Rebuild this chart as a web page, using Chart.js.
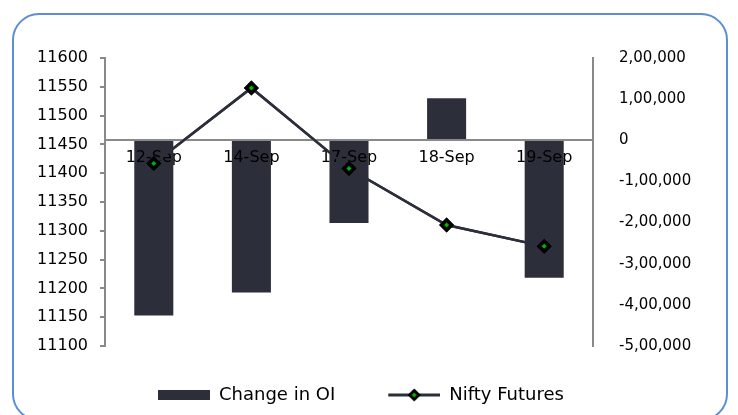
<!DOCTYPE html>
<html><head><meta charset="utf-8">
<script src="https://cdn.jsdelivr.net/npm/chart.js@4.4.0/dist/chart.umd.min.js"></script>
<style>
html,body{margin:0;padding:0;background:#fff;}
#wrap{position:relative;width:738px;height:415px;overflow:hidden;background:#fff;}
#frame{position:absolute;left:12px;top:13px;width:716px;height:408px;border:2px solid #5b8ed6;border-radius:27px;box-sizing:border-box;}
canvas{position:absolute;left:0;top:0;}
</style></head><body>
<div id="wrap"><div id="frame"></div><canvas id="c" width="738" height="415"></canvas></div>
<script>
const categories = ['12-Sep', '14-Sep', '17-Sep', '18-Sep', '19-Sep'];
const oiChange = [-426000, -370000, -201000, 102000, -334000];
const niftyFutures = [11417, 11548, 11408, 11310, 11273];
const leftTickValues = [11100, 11150, 11200, 11250, 11300, 11350, 11400, 11450, 11500, 11550, 11600];
const leftTickLabels = ['11100', '11150', '11200', '11250', '11300', '11350', '11400', '11450', '11500', '11550', '11600'];
const rightTickValues = [-500000, -400000, -300000, -200000, -100000, 0, 100000, 200000];
const rightTickLabels = ['-5,00,000', '-4,00,000', '-3,00,000', '-2,00,000', '-1,00,000', '0', '1,00,000', '2,00,000'];
const seriesNames = ['Change in OI', 'Nifty Futures'];

const BAR_COLOR = '#2c2e3a';
const LINE_COLOR = '#2c2e3a';
const AXIS_COLOR = '#898989';
const SW_W = 95, SW_PAD = 43;

Chart.defaults.font.family = "'DejaVu Sans', sans-serif";
Chart.defaults.color = '#000';

function makeBarSwatch() {
  const c = document.createElement('canvas');
  c.width = SW_W; c.height = 12;
  const g = c.getContext('2d');
  g.fillStyle = BAR_COLOR;
  g.fillRect(SW_PAD, 1, 52, 10);
  return c;
}
function makeLineSwatch() {
  const c = document.createElement('canvas');
  c.width = SW_W; c.height = 14;
  const g = c.getContext('2d');
  const cx = SW_PAD + 26;
  g.strokeStyle = LINE_COLOR; g.lineWidth = 3;
  g.beginPath(); g.moveTo(SW_PAD, 7); g.lineTo(SW_W, 7); g.stroke();
  g.beginPath(); g.moveTo(cx, 2.5); g.lineTo(cx + 4.5, 7); g.lineTo(cx, 11.5); g.lineTo(cx - 4.5, 7); g.closePath();
  g.fillStyle = '#00b400'; g.fill();
  g.strokeStyle = '#000'; g.lineWidth = 3; g.stroke();
  return c;
}
const swatches = [makeBarSwatch(), makeLineSwatch()];

const redrawLine = {
  id: 'redrawLine',
  afterDraw(chart) {
    const meta = chart.getDatasetMeta(1);
    if (meta && meta.controller) meta.controller.draw();
  }
};

new Chart(document.getElementById('c'), {
  data: {
    labels: categories,
    datasets: [
      {
        type: 'bar', label: seriesNames[0], data: oiChange, yAxisID: 'y1', order: 1,
        backgroundColor: BAR_COLOR, borderWidth: 0,
        barPercentage: 0.4, categoryPercentage: 1.0
      },
      {
        type: 'line', label: seriesNames[1], data: niftyFutures, yAxisID: 'y', order: 0,
        borderColor: LINE_COLOR, borderWidth: 2.5, tension: 0, fill: false,
        pointStyle: 'rectRot', pointRadius: 5, pointBackgroundColor: '#00b400',
        pointBorderColor: '#000', pointBorderWidth: 3.5
      }
    ]
  },
  options: {
    responsive: false, animation: false, devicePixelRatio: 1,
    layout: { padding: { top: 58, bottom: 1, left: 0, right: 0 } },
    scales: {
      x: {
        type: 'category', position: { y1: 0 }, offset: true,
        grid: { display: false },
        border: { display: true, color: AXIS_COLOR, width: 2, z: 1 },
        ticks: { z: 1, padding: 0, font: { size: 16 }, color: '#000', maxRotation: 0, autoSkip: false }
      },
      y: {
        type: 'linear', position: 'left', min: 11100, max: 11600,
        afterFit(s) { s.width = 105; },
        afterBuildTicks(s) { s.ticks = leftTickValues.map(v => ({ value: v })); },
        grid: { drawOnChartArea: false, drawTicks: true, tickLength: 5, tickColor: AXIS_COLOR, lineWidth: 2 },
        border: { display: true, color: AXIS_COLOR, width: 2 },
        ticks: {
          padding: 12, font: { size: 16 }, color: '#000',
          callback: (v) => leftTickLabels[leftTickValues.indexOf(v)]
        }
      },
      y1: {
        type: 'linear', position: 'right', min: -500000, max: 200000,
        afterFit(s) { s.width = 145; },
        afterBuildTicks(s) { s.ticks = rightTickValues.map(v => ({ value: v })); },
        grid: { display: false },
        border: { display: true, color: AXIS_COLOR, width: 2 },
        ticks: {
          padding: 18, font: { size: 15 }, color: '#000',
          callback: (v) => rightTickLabels[rightTickValues.indexOf(v)]
        }
      }
    },
    plugins: {
      tooltip: { enabled: false },
      legend: {
        display: true, position: 'bottom', align: 'start', fullSize: false,
        title: { display: true, text: '', padding: 0, font: { size: 10, lineHeight: '30px' } },
        labels: {
          usePointStyle: true, pointStyleWidth: SW_W, padding: 10,
          font: { size: 18 }, color: '#000',
          generateLabels(chart) {
            return chart.data.datasets.map((ds, i) => ({
              text: ds.label, pointStyle: swatches[i], datasetIndex: i,
              hidden: false, lineWidth: 0, fillStyle: BAR_COLOR, strokeStyle: BAR_COLOR, fontColor: '#000'
            }));
          }
        }
      }
    }
  },
  plugins: [redrawLine]
});
</script>
</body></html>
